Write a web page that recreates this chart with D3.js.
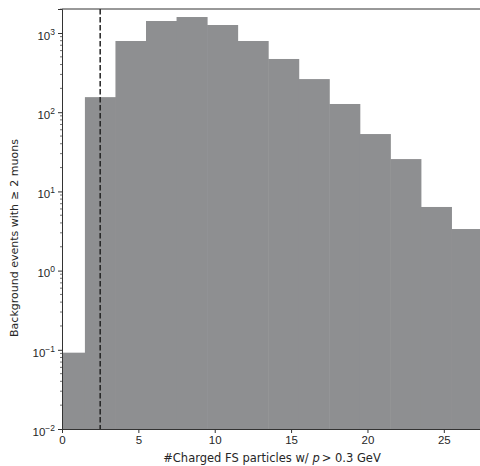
<!DOCTYPE html>
<html>
<head>
<meta charset="utf-8">
<script src="https://cdn.jsdelivr.net/npm/d3@7"></script>
<style>
  body { margin: 0; background: #fff; }
  svg { font-family: "DejaVu Sans", sans-serif; }
</style>
</head>
<body>
<svg id="chart" width="480" height="466"></svg>
<script>
// bin edges (width 2, starting at -0.5) and counts
const binEdges = [-0.5, 1.5, 3.5, 5.5, 7.5, 9.5, 11.5, 13.5, 15.5, 17.5, 19.5, 21.5, 23.5, 25.5, 27.5]
const counts = [0.092, 155, 793, 1418, 1592, 1262, 793, 470, 262, 127, 53, 25.6, 6.36, 3.35]
const xTicks = [0, 5, 10, 15, 20, 25]
const yTickExps = [-2, -1, 0, 1, 2, 3]
const cutValue = 2.5

const svg = d3.select("#chart")
const margin = { top: 9, right: -2, bottom: 37, left: 62 }
const width = +svg.attr("width")
const height = +svg.attr("height")
const innerWidth = width - margin.left - margin.right
const innerHeight = height - margin.top - margin.bottom

const xScale = d3.scaleLinear().domain([0, 27.5]).range([0, innerWidth])
const yScale = d3.scaleLog().domain([0.01, 2010]).range([innerHeight, 0])

const g = svg.append("g").attr("transform", `translate(${margin.left},${margin.top})`)

g.append("clipPath").attr("id", "clip")
  .append("rect").attr("width", innerWidth).attr("height", innerHeight)

const bins = counts.map((c, i) => ({ x0: binEdges[i], x1: binEdges[i + 1], v: c }))

g.append("g").attr("clip-path", "url(#clip)")
  .selectAll("rect").data(bins).enter().append("rect")
  .attr("x", d => xScale(d.x0))
  .attr("width", d => xScale(d.x1) - xScale(d.x0) + 0.5)
  .attr("y", d => yScale(d.v))
  .attr("height", d => innerHeight - yScale(d.v))
  .attr("fill", "#8e8f91")

// dashed cut line
g.append("line")
  .attr("x1", xScale(cutValue)).attr("x2", xScale(cutValue))
  .attr("y1", 0).attr("y2", innerHeight)
  .attr("stroke", "#222").attr("stroke-width", 1.5)
  .attr("stroke-dasharray", "5.5,2.5")

// x axis
const xAxis = d3.axisBottom(xScale).tickValues(xTicks).tickSize(4).tickPadding(3).tickFormat(d3.format("d"))
const xAxisG = g.append("g").attr("transform", `translate(0,${innerHeight})`).call(xAxis)
xAxisG.select(".domain").attr("stroke", "#333")
xAxisG.selectAll(".tick line").attr("stroke", "#333")
xAxisG.selectAll(".tick text").attr("font-size", 11.5).attr("fill", "#262626")

// y axis, major ticks
const yAxis = d3.axisLeft(yScale).tickValues(yTickExps.map(e => Math.pow(10, e))).tickSize(4).tickPadding(3).tickFormat("")
const yAxisG = g.append("g").call(yAxis)
yAxisG.select(".domain").attr("stroke", "#333")
yAxisG.selectAll(".tick line").attr("stroke", "#333")
yAxisG.selectAll(".tick").each(function (d) {
  const e = Math.round(Math.log10(d))
  const t = d3.select(this).select("text")
    .attr("font-size", 11.5).attr("fill", "#262626").attr("dy", "0.55em")
  t.text("10")
  t.append("tspan").attr("dy", "-0.6em").attr("font-size", 8.5).text(String(e).replace("-", "\u2212"))
})

// minor ticks
const minor = []
yTickExps.forEach(e => { for (let k = 2; k <= 9; k++) minor.push(k * Math.pow(10, e)) })
g.append("g").selectAll("line")
  .data(minor.filter(v => v <= yScale.domain()[1])).enter().append("line")
  .attr("x1", -2).attr("x2", 0)
  .attr("y1", d => yScale(d)).attr("y2", d => yScale(d))
  .attr("stroke", "#333").attr("stroke-width", 0.7)

// top spine
g.append("line").attr("x1", 0).attr("x2", innerWidth).attr("y1", 0).attr("y2", 0)
  .attr("stroke", "#333")

// axis labels
const xl = svg.append("text")
  .attr("x", 272).attr("y", 462)
  .attr("text-anchor", "middle").attr("font-size", 11.5).attr("fill", "#262626")
xl.append("tspan").text("#Charged FS particles w/ ")
xl.append("tspan").attr("font-style", "italic").text("p")
xl.append("tspan").attr("dx", 2).text("> 0.3 GeV")

const yl = svg.append("text")
  .attr("transform", "translate(18,238) rotate(-90)")
  .attr("text-anchor", "middle").attr("font-size", 11).attr("fill", "#262626")
yl.append("tspan").text("Background events with")
yl.append("tspan").attr("dx", 4).text("\u2265")
yl.append("tspan").attr("dx", 4).text("2 muons")
</script>
</body>
</html>
